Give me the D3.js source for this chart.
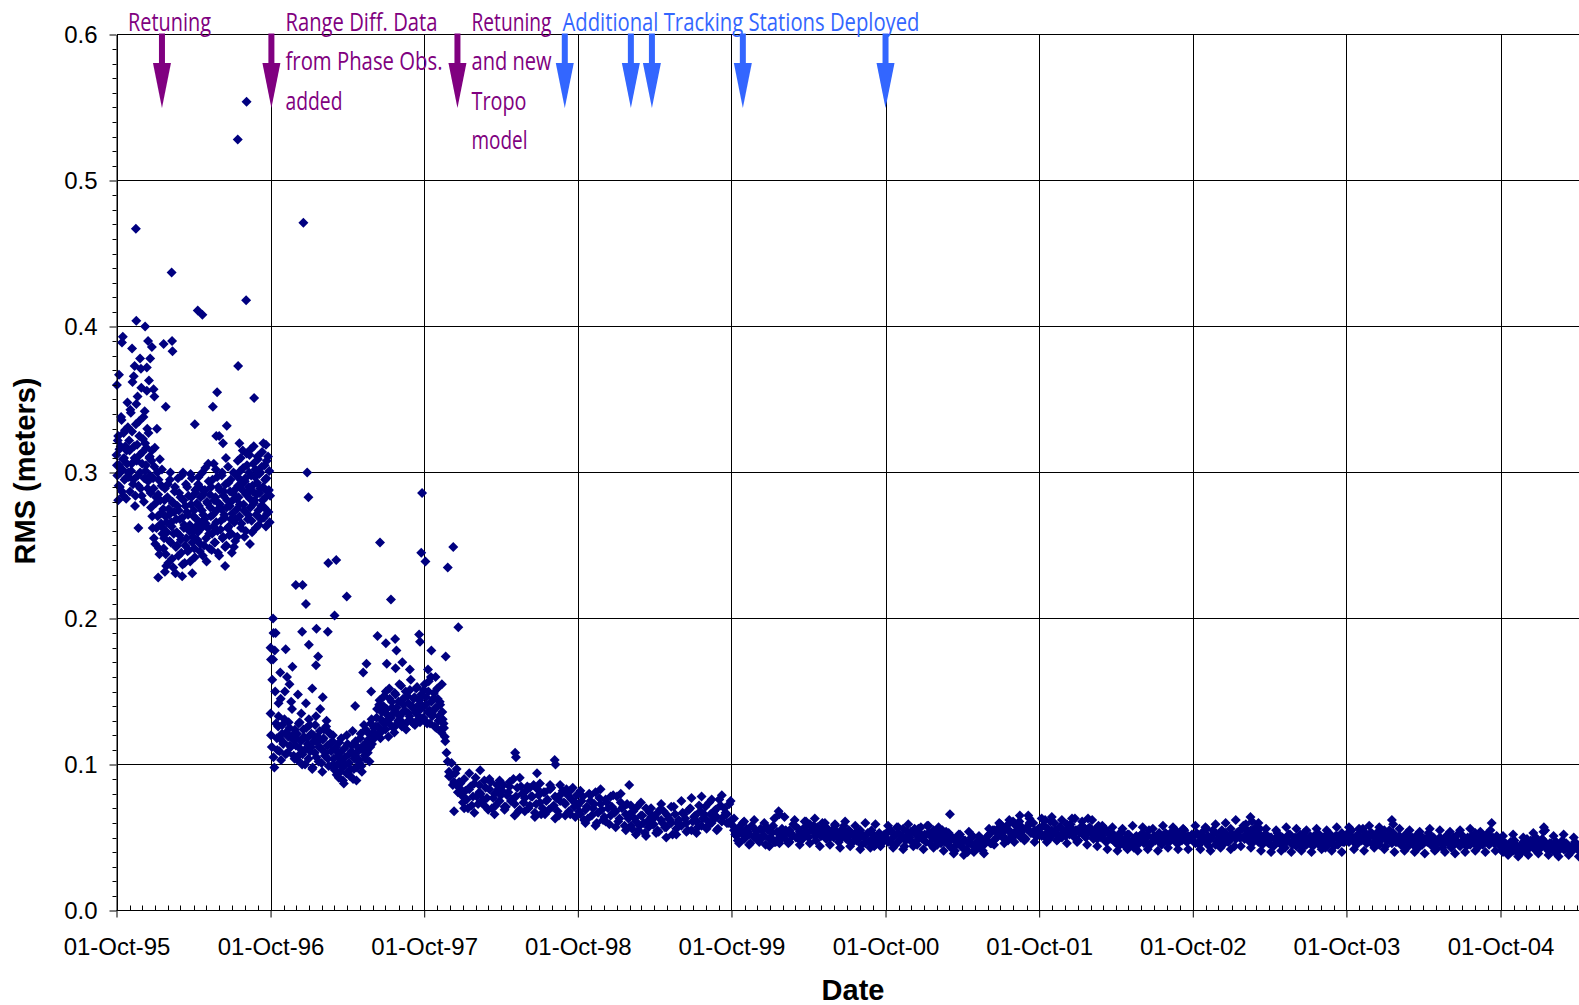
<!DOCTYPE html>
<html>
<head>
<meta charset="utf-8">
<script src="https://cdn.jsdelivr.net/npm/d3@7"></script>
<style>
body { margin: 0; background: #fff; }
svg { display: block; }
</style>
</head>
<body>
<svg id="chart" width="1579" height="1005"></svg>
<script>
// RMS residuals, in millimetres, one value every runStep days from runStart.
// Two interleaved passes per period, plus a sparser pass along the band edges after late 1997.
var runStart = ["1995-10-01", "1996-10-01", "1997-11-23", "1998-10-01", "1999-10-01",
                "2000-10-01", "2001-10-01", "2002-10-01", "2003-10-01", "2004-10-01",
                "1995-10-02", "1996-10-02", "1997-11-26", "1998-10-04", "1999-10-04",
                "2000-10-04", "2001-10-04", "2002-10-04", "2003-10-04", "2004-10-04",
                "1997-11-29", "1998-10-07", "1999-10-07", "2000-10-07", "2001-10-07",
                "2002-10-07", "2003-10-07", "2004-10-07"];
var runStep = [2, 3, 6, 6, 6, 6, 6, 6, 6, 6,
               2, 3, 6, 6, 6, 6, 6, 6, 6, 6,
               12, 12, 12, 12, 12, 12, 12, 12];

var rms96 = [312,298,325,305,290,318,336,302,284,310,329,296,315,348,300,
	322,287,341,306,362,295,318,277,333,308,352,291,325,300,371,284,314,338,296,320,305,356,289,327,310,
	298,276,315,262,289,304,251,283,330,270,295,244,281,265,302,
	262,248,281,270,236,259,292,275,253,300,266,241,279,258,287,231,268,250,296,274,
	257,283,245,269,300,262,238,277,255,290,271,247,264,299,283,252,260,274,242,286,
	268,254,292,277,246,283,262,300,271,250,288,265,239,279,306,258,285,270,247,295,
	263,281,252,302,274,260,290,243,278,267,298,255,284,271,249,310,276,262,293,257,
	287,268,245,281,300,266,253,289,275,308,
	283,270,301,262,292,315,278,256,296,285,305,268,290,312,276,298,259,287,318,281,
	302,271,293,309,264,286,300,277,314,290,269,305,283,296,272,311,288,266];
var rms96b = [305,322,291,316,300,338,287,309,327,295,318,282,306,331,297,
	315,343,301,328,292,366,310,284,347,319,298,335,312,289,358,306,323,280,342,301,317,330,294,363,311,
	286,308,270,296,255,317,279,262,300,285,248,309,272,291,258,
	275,255,289,244,266,283,238,271,295,252,263,280,235,273,290,249,259,277,243,286,
	268,254,298,237,281,264,250,292,273,246,284,260,239,278,296,256,270,248,288,263,
	279,259,297,266,251,289,274,243,285,268,303,255,280,262,294,248,276,290,258,271,
	306,252,283,266,297,245,279,288,261,275,300,256,287,269,292,250,281,304,263,277,
	295,258,272,286,249,299,268,282,256,291,
	296,278,310,265,288,303,274,294,260,313,286,271,300,282,316,267,291,306,279,297,
	262,285,311,274,299,289,268,304,281,320,276,295,263,308,287,273,301,284];

var rms97 = [135,112,172,98,190,
	118,126,109,145,121,114,131,107,160,119,125,112,138,117,104,
	113,121,106,129,116,100,124,110,142,118,104,127,112,97,120,108,133,115,102,123,
	111,95,118,106,126,113,99,121,109,116,
	104,96,112,100,91,108,118,98,87,105,94,114,101,92,109,123,97,106,89,112,
	103,118,99,110,127,104,115,108,121,112,131,117,125,
	120,132,126,141,118,136,129,147,124,138,131,152,127,143,135,122,148,139,130,155,
	134,126,145,137,150,129,142,133,158,140,128,146,136,153,131,144,138,
	147,132,155,141,128,150,137,160,133,145,126,139,152,130,143,124,136,128,119];
var rms97b = [120,158,105,178,128,
	110,133,118,103,127,115,150,122,108,129,113,143,120,106,124,
	118,103,128,111,135,107,119,100,125,114,131,109,121,98,116,127,105,119,112,138,
	101,117,124,108,130,104,122,114,99,120,
	99,110,93,106,115,95,103,89,111,100,120,94,107,97,113,90,104,116,98,109,
	101,121,95,113,106,124,110,117,102,128,114,122,119,
	126,138,121,144,131,123,140,128,150,134,119,145,132,139,125,149,136,128,143,133,
	154,129,141,137,124,147,135,151,130,139,145,127,152,134,141,129,148,
	140,151,130,146,136,157,128,143,134,149,138,125,145,133,141,122,131,125,116];

var rms98 = [108,95,101,88,97,
	84,79,90,76,83,72,87,78,81,74,89,77,83,70,80,86,75,82,71,79,88,76,73,84,69,80,
	77,85,72,78,67,83,74,70,81,76,86,71,78,68,75,82,73,79,66,84,74];
var rms98b = [102,92,86,94,81,
	87,74,82,70,85,78,91,73,80,76,84,69,88,77,72,83,79,86,71,81,75,90,78,68,85,74,
	82,70,78,86,73,79,66,81,75,69,84,72,77,65,80,74,83,68,76,71,79];
var rms98c = [92,68,88,70,94,67,86,72,90,66,89,69,85,65,91,68,84,64,87,66,83,63,86,65,82,64];

var rms99 = [72,66,78,69,63,75,70,81,67,73,62,76,70,65,79,68,61,74,71,66,
	63,58,68,61,55,65,60,70,57,64,59,66,54,62,68,57,63,60,71,56,
	62,58,66,60,69,55,64,61,72,58,66,62,74,60,68,64,76,61,70,66,73];
var rms99b = [68,75,62,71,80,65,73,60,77,69,64,74,59,71,67,78,63,70,58,73,
	66,56,63,71,58,65,53,61,67,59,64,55,69,60,57,65,62,52,66,60,
	59,67,63,55,70,61,65,57,68,63,71,58,66,62,69,56,72,64,67,60,75];
var rms99c = [82,60,79,58,83,61,78,57,80,55,72,52,74,51,70,53,73,50,71,52,
	75,54,77,53,78,56,76,55,79,60];

var rms00 = [62,55,51,57,53,49,56,52,58,50,54,48,55,51,57,49,53,47,54,50,
	56,52,48,55,51,58,50,54,49,57,53,59,55,51,57,54,60,52,56,50,
	55,58,53,49,56,52,50,54,47,53,49,55,51,46,53,48,52,45,51,48,50];
var rms00b = [58,52,48,55,60,50,54,46,57,52,49,56,51,45,55,50,58,47,53,49,
	51,55,46,53,59,50,56,48,52,61,50,55,58,48,53,51,57,49,55,52,
	50,54,47,52,58,49,55,46,51,48,54,45,50,52,47,55,44,49,53,46,52];
var rms00c = [63,46,61,45,62,47,60,44,63,46,64,47,62,45,61,46,63,44,60,45,
	59,43,61,44,58,42,60,43,59,44];

var rms01 = [52,47,55,50,45,53,49,56,48,51,54,46,52,49,57,50,47,53,51,55,
	48,52,46,50,54,47,43,49,45,51,44,48,42,46,50,44,47,43,49,45,
	48,52,46,55,50,57,53,49,58,54,51,59,55,52,57,50,56,60,53,55,51];
var rms01b = [49,55,46,52,57,48,51,44,54,50,47,56,45,53,49,52,58,46,50,54,
	45,49,55,47,52,44,50,41,47,52,43,48,40,46,51,42,45,49,41,47,
	51,46,55,49,53,59,51,56,48,54,61,52,57,50,55,49,58,53,60,51,56];
var rms01c = [58,43,57,42,59,44,56,42,58,43,57,41,53,39,52,38,54,40,51,39,
	56,45,60,46,62,47,61,48,63,47];

var rms02 = [56,51,58,53,49,55,60,52,57,50,54,59,52,56,50,55,53,58,51,54,
	57,52,55,49,53,51,56,48,52,50,47,51,45,49,46,52,44,48,50,45,
	49,53,47,51,45,50,48,52,46,50,53,47,51,49,55,46,50,52,48,51,49];
var rms02b = [53,58,50,56,61,52,55,49,57,53,51,56,59,52,55,48,54,57,50,56,
	54,49,53,58,50,55,47,53,49,52,46,50,54,45,49,52,47,43,51,48,
	52,46,50,55,47,51,49,53,45,49,52,47,54,50,46,52,48,55,47,50,52];
var rms02c = [63,47,64,48,62,46,63,47,61,45,62,44,58,42,57,41,56,42,58,41,
	57,42,56,41,58,43,57,42,56,42];

var rms03 = [50,46,52,48,54,47,51,49,55,45,52,48,50,53,47,56,51,49,54,50,
	58,52,48,55,50,53,47,51,49,52,46,50,44,48,51,45,49,47,52,46,
	48,44,50,47,53,45,49,46,51,48,45,50,47,52,46,49,44,51,48,53,47];
var rms03b = [47,53,45,51,49,56,44,50,53,47,49,55,46,51,48,52,44,53,50,56,
	49,55,51,46,53,49,56,45,52,47,50,44,49,53,46,50,43,48,52,45,
	50,47,52,43,49,46,51,44,48,53,47,50,43,49,52,46,51,45,49,47,50];
var rms03c = [58,42,57,41,59,43,60,42,62,44,59,43,57,41,56,40,55,41,57,40,
	56,41,55,40,56,42,55,41,57,40];

var rms04 = [52,47,55,49,45,51,48,54,46,50,53,47,51,45,49,55,48,52,46,50,
	47,51,45,49,53,46,50,44,48,52,45,49,47,51,44,48,46,50,43,47,
	51,45,49,46,52,44,48,46,50,45,49,53,47,51,45,48,52,46,50,47,49];
var rms04b = [48,54,50,46,52,49,56,51,47,53,45,50,54,48,52,44,51,49,53,47,
	50,45,48,52,44,49,47,51,43,50,46,48,53,45,50,42,47,49,45,51,
	47,43,50,48,45,52,47,44,49,51,46,48,44,50,47,52,45,49,46,51,48];
var rms04c = [57,42,56,41,58,43,57,42,55,40,56,41,55,40,54,39,56,41,55,40,
	54,39,55,40,56,41,54,40,55,41];

var rms05 = [44,40,46,42,47,41,45,39,43,47,42,45,48,44,50,46,43,48,45,41,
	46,43,47,41,45,42,46,44,40,45,43,44];
var rms05b = [41,46,43,39,45,48,42,44,40,46,49,43,47,42,45,44,49,47,42,46,
	44,40,46,43,48,42,45,41,44,47,42];
var rms05c = [51,38,52,37,50,38,53,39,54,38,51,37,52,38,50,37];

var runs = [rms96, rms97, rms98, rms99, rms00, rms01, rms02, rms03, rms04, rms05,
            rms96b, rms97b, rms98b, rms99b, rms00b, rms01b, rms02b, rms03b, rms04b, rms05b,
            rms98c, rms99c, rms00c, rms01c, rms02c, rms03c, rms04c, rms05c];

// scattered single days away from the main cloud, [date, mm]
var outliers = [
	["1995-10-02",360],["1995-10-05",281],["1995-10-07",367],["1995-10-14",389],["1995-10-16",393],
	["1995-11-07",385],["1995-11-13",373],["1995-11-16",467],["1995-11-17",404],["1995-11-22",262],
	["1995-11-26",378],["1995-12-08",400],["1995-12-12",372],["1995-12-15",390],["1995-12-20",378],
	["1995-12-24",386],["1995-12-28",357],["1995-12-30",352],["1996-01-08",228],["1996-01-21",388],
	["1996-01-24",232],["1996-01-26",345],["1996-02-09",437],["1996-02-10",390],["1996-02-11",383],
	["1996-03-05",229],["1996-03-29",231],["1996-04-04",333],["1996-04-11",411],["1996-04-22",408],
	["1996-05-17",345],["1996-05-25",325],["1996-05-27",355],["1996-06-01",325],["1996-06-10",320],
	["1996-06-15",236],["1996-06-19",332],["1996-07-15",528],["1996-07-16",373],["1996-07-19",320],
	["1996-08-04",418],["1996-08-05",554],["1996-08-13",251],["1996-08-23",351],["1996-09-20",319],
	["1996-10-01",180],["1996-10-02",172],["1996-10-07",200],["1996-10-08",190],["1996-10-12",150],
	["1996-10-20",142],["1996-10-24",163],["1996-11-06",179],["1996-11-15",155],["1996-11-22",167],
	["1996-11-30",223],["1996-12-05",148],["1996-12-15",191],["1996-12-16",223],["1996-12-18",471],
	["1996-12-24",210],["1996-12-27",300],["1996-12-30",283],["1996-12-31",182],["1997-01-08",152],
	["1997-01-17",168],["1997-01-18",193],["1997-01-22",174],["1997-02-02",146],["1997-02-14",191],
	["1997-02-15",238],["1997-03-02",202],["1997-03-06",240],["1997-03-31",215],["1997-04-20",140],
	["1997-05-09",163],["1997-05-17",169],["1997-05-28",150],["1997-06-12",188],["1997-06-18",252],
	["1997-07-02",183],["1997-07-04",169],["1997-07-14",213],["1997-07-24",186],["1997-07-25",166],
	["1997-07-27",178],["1997-08-10",170],["1997-08-28",165],["1997-09-19",189],["1997-09-21",184],
	["1997-09-24",245],["1997-09-26",286],["1997-10-04",239],["1997-10-10",165],["1997-10-18",178],
	["1997-10-28",160],["1997-11-12",155],["1997-11-21",174],["1997-11-26",235],["1997-12-09",249],
	["1997-12-21",194],
	["1998-02-11",96],["1998-05-05",108],["1998-05-07",105],["1998-06-26",94],["1998-08-07",103],
	["1998-08-09",100],["1999-01-31",86],["2000-01-21",68],["2000-01-23",66],["2001-03-03",66],
	["2001-08-16",65],["2001-09-05",65],["2001-10-15",62],["2001-12-25",63],["2002-01-25",63],
	["2003-02-15",64],["2003-02-19",61],["2003-03-06",60],["2004-01-17",62],["2004-01-20",59],
	["2004-09-10",60],["2005-01-12",57],["2005-01-15",55]
];

var retuneDates = ["1996-01-17", "1996-10-03", "1997-12-19"];
var retuneNotes = [["Retuning"], ["Range Diff. Data", "from Phase Obs.", "added"], ["Retuning", "and new", "Tropo", "model"]];
var stationDates = ["1998-08-31", "1999-02-04", "1999-03-26", "1999-10-28", "2000-10-01"];
var stationNote = "Additional Tracking Stations Deployed";

var xTickLabels = ["01-Oct-95", "01-Oct-96", "01-Oct-97", "01-Oct-98", "01-Oct-99",
                   "01-Oct-00", "01-Oct-01", "01-Oct-02", "01-Oct-03", "01-Oct-04"];
var yTicks = [0, 0.1, 0.2, 0.3, 0.4, 0.5, 0.6];

var parseDay = d3.timeParse("%Y-%m-%d");
var parseTick = d3.timeParse("%d-%b-%y");
var navy = "#000080", purple = "#800080", blue = "#3366ff";
var W = 1579, plotLeft = 116.5, plotTop = 34.5, plotBottom = 910.5;

var svg = d3.select("#chart");

var xTicks = xTickLabels.map(parseTick);
var x = d3.scaleTime()
    .domain([xTicks[0], xTicks[xTicks.length - 1]])
    .range([plotLeft, 1500.5]);
var y = d3.scaleLinear()
    .domain([0, 0.6])
    .range([plotBottom, plotTop]);

var points = [];
runs.forEach(function (vals, r) {
	var t0 = parseDay(runStart[r]);
	vals.forEach(function (v, i) {
		points.push({ date: d3.timeDay.offset(t0, i * runStep[r]), rms: v / 1000 });
	});
});
outliers.forEach(function (d) {
	points.push({ date: parseDay(d[0]), rms: d[1] / 1000 });
});

// grid
var grid = svg.append("g").attr("shape-rendering", "crispEdges");
grid.selectAll("line.h")
    .data(yTicks)
  .enter().append("line").attr("class", "h")
    .attr("x1", plotLeft).attr("x2", W)
    .attr("y1", function (d) { return y(d) }).attr("y2", function (d) { return y(d) })
    .style("stroke", "#000").style("stroke-width", 1);
grid.selectAll("line.v")
    .data(xTicks)
  .enter().append("line").attr("class", "v")
    .attr("x1", function (d) { return Math.round(x(d)) + 0.5 }).attr("x2", function (d) { return Math.round(x(d)) + 0.5 })
    .attr("y1", plotTop).attr("y2", plotBottom)
    .style("stroke", "#000").style("stroke-width", 1);

// points
var r = 5;
svg.append("g").selectAll("path")
    .data(points)
  .enter().append("path")
    .attr("d", "M0," + (-r) + "L" + r + ",0L0," + r + "L" + (-r) + ",0Z")
    .attr("transform", function (d) { return "translate(" + x(d.date) + "," + y(d.rms) + ")" })
    .style("fill", navy);

// axes
var yAxis = svg.append("g")
    .attr("transform", "translate(" + plotLeft + ",0)")
    .call(d3.axisLeft(y).tickValues(yTicks).tickFormat(d3.format(".1f")).tickSize(7).tickSizeOuter(0).tickPadding(12));
yAxis.selectAll("text").style("font", "24px 'Liberation Sans', Arial, sans-serif").style("fill", "#000");
yAxis.select(".domain").style("stroke", "#000");
yAxis.selectAll(".minor")
    .data(d3.range(1, 60).filter(function (i) { return i % 10 !== 0 }).map(function (i) { return i / 100 }))
  .enter().append("line").attr("class", "minor")
    .attr("x1", -4).attr("x2", 0)
    .attr("y1", function (d) { return Math.round(y(d)) + 0.5 }).attr("y2", function (d) { return Math.round(y(d)) + 0.5 })
    .style("stroke", "#000");

var xAxis = svg.append("g")
    .attr("transform", "translate(0," + plotBottom + ")")
    .call(d3.axisBottom(x).tickValues(xTicks).tickFormat(d3.timeFormat("%d-%b-%y")).tickSize(7).tickSizeOuter(0));
xAxis.select(".domain").attr("d", "M" + plotLeft + ",0H" + W).style("stroke", "#000");
xAxis.selectAll("text")
    .attr("dy", null).attr("y", 44.5)
    .style("font", "24px 'Liberation Sans', Arial, sans-serif").style("fill", "#000");
xAxis.selectAll(".minor")
    .data(d3.timeMonth.range(xTicks[0], x.invert(W)))
  .enter().append("line").attr("class", "minor")
    .attr("x1", function (d) { return Math.round(x(d)) + 0.5 }).attr("x2", function (d) { return Math.round(x(d)) + 0.5 })
    .attr("y1", -5).attr("y2", 0)
    .style("stroke", "#000");

svg.append("text")
    .attr("transform", "translate(35,471) rotate(-90)")
    .attr("text-anchor", "middle")
    .style("font", "bold 29px 'Liberation Sans', Arial, sans-serif")
    .text("RMS (meters)");
svg.append("text")
    .attr("x", 853).attr("y", 1000)
    .attr("text-anchor", "middle")
    .style("font", "bold 29px 'Liberation Sans', Arial, sans-serif")
    .text("Date");

// arrows
function arrow(date, color) {
	var cx = x(parseDay(date));
	svg.append("rect")
	    .attr("x", cx - 3).attr("y", plotTop - 1).attr("width", 6).attr("height", 31)
	    .style("fill", color);
	svg.append("path")
	    .attr("d", "M" + (cx - 9) + ",63L" + (cx + 9) + ",63L" + cx + ",108Z")
	    .style("fill", color);
}
retuneDates.forEach(function (d) { arrow(d, purple) });
stationDates.forEach(function (d) { arrow(d, blue) });

// notes
var noteFont = "26px 'Open Sans', sans-serif";
var noteX = [128, 285.5, 471.5];
var noteWidth = [[83], [152, 157, 57], [80, 80, 55, 56]];
retuneNotes.forEach(function (lines, i) {
	lines.forEach(function (line, j) {
		svg.append("text")
		    .attr("x", noteX[i]).attr("y", 31 + j * 39.3)
		    .attr("textLength", noteWidth[i][j]).attr("lengthAdjust", "spacingAndGlyphs")
		    .style("font", noteFont).style("fill", purple)
		    .text(line);
	});
});
svg.append("text")
    .attr("x", 562.5).attr("y", 30.5)
    .attr("textLength", 357).attr("lengthAdjust", "spacingAndGlyphs")
    .style("font", noteFont).style("fill", blue)
    .text(stationNote);
</script>
</body>
</html>
